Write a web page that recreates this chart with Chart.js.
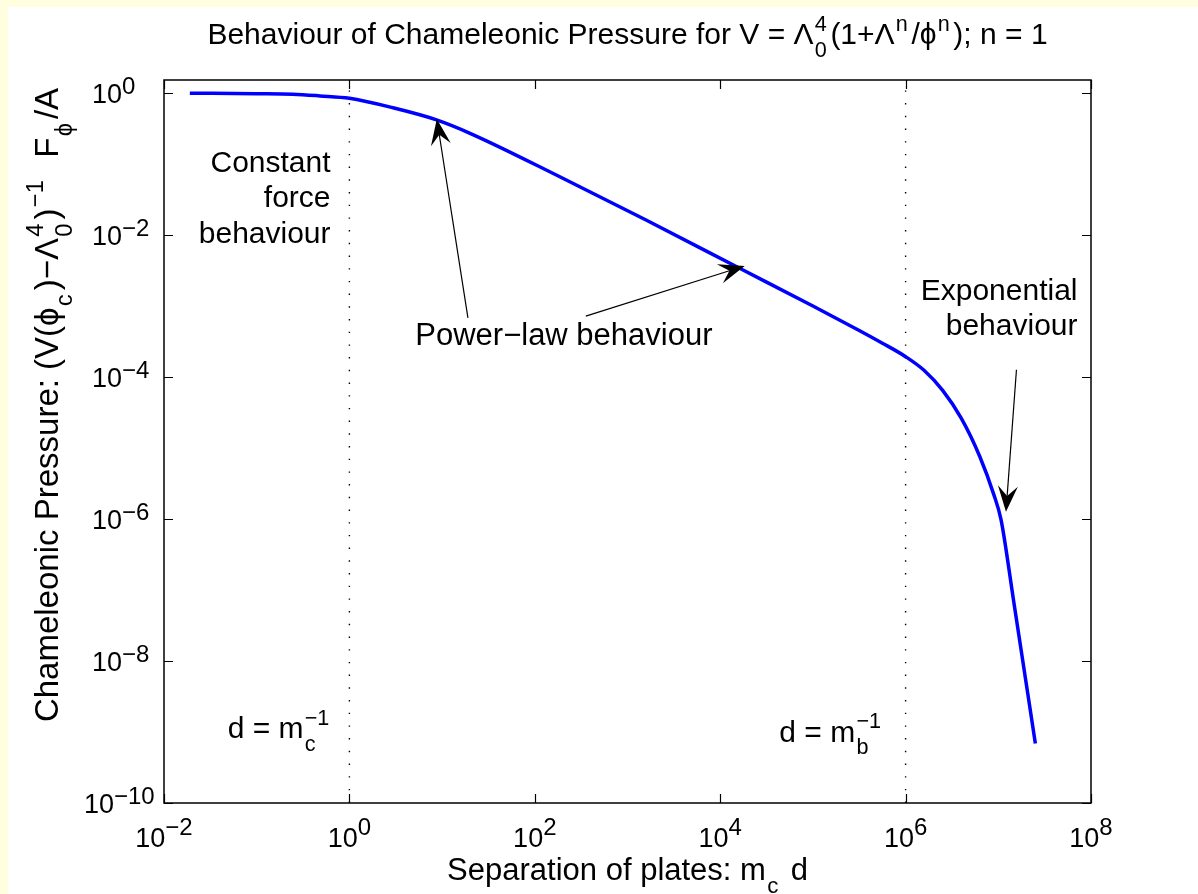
<!DOCTYPE html>
<html>
<head>
<meta charset="utf-8">
<title>Chameleonic pressure</title>
<script src="https://cdn.jsdelivr.net/npm/chart.js@4.4.0/dist/chart.umd.min.js"></script>
<style>
  html, body { margin: 0; padding: 0; background: #ffffe0; overflow: hidden; }
  #wrap { position: absolute; left: 8px; top: 7px; width: 1190px; height: 887px; background: #fff; }
</style>
</head>
<body>
<div id="wrap"><canvas id="pressureChart" width="1190" height="887"></canvas></div>
<script>
/* values (x = m_c d, y = scaled pressure) */
var separation = [0.019, 0.1, 0.245, 0.48, 1, 2.95, 8.7, 20, 186, 1585, 16200, 1.0e5, 3.16e5, 5.62e5,
                  1.0e6, 1.58e6, 2.51e6, 3.98e6, 6.31e6, 8.91e6, 1.07e7, 1.45e7, 2.51e7];
var pressure = [0.99, 0.977, 0.96, 0.908, 0.84, 0.617, 0.417, 0.27, 0.066, 0.0162, 0.00339, 1.0e-3, 4.52e-4, 2.99e-4,
                1.93e-4, 1.24e-4, 6.46e-5, 2.63e-5, 7.59e-6, 2.24e-6, 9.8e-7, 7.6e-8, 6.9e-10];

var xTickValues = [1e-2, 1e0, 1e2, 1e4, 1e6, 1e8];
var yTickValues = [1e-10, 1e-8, 1e-6, 1e-4, 1e-2, 1e0];
var xRange = [1e-2, 1e8];
var yRange = [1e-10, 1.52];
var markerLines = [1, 1e6];   // d = 1/m_c and d = 1/m_b

/* annotations, anchored in data coordinates */
var arrows = [
    { from: [19.0, 6.78e-4], to: [8.77, 0.43] },
    { from: [355, 7.2e-4], to: [18370, 3.66e-3] },
    { from: [1.57e7, 1.26e-4], to: [1.21e7, 1.26e-6] }
];
var notes = [
    { lines: ['Constant', 'force', 'behaviour'], at: [0.626, 0.0771], align: 'right' },
    { lines: ['Power\u2212law behaviour'], at: [206, 2.82e-4], align: 'center' },
    { lines: ['Exponential', 'behaviour'], at: [7.15e7, 1.22e-3], align: 'right' }
];
var markerNotes = [
    { sub: 'c', at: [0.664, 8.2e-10] },
    { sub: 'b', at: [5.94e5, 7.3e-10] }
];

var FAMILY = "'Liberation Sans', Arial, Helvetica, sans-serif";
function font(px) { return px + 'px ' + FAMILY; }

/* rich text: {t: text} or {sup: .., sub: ..} */
function partWidth(ctx, p, size) {
    if (p.t !== undefined) { ctx.font = font(size); return ctx.measureText(p.t).width; }
    ctx.font = font(size * 0.72);
    var a = p.sup ? ctx.measureText(p.sup).width : 0;
    var b = p.sub ? ctx.measureText(p.sub).width : 0;
    return Math.max(a, b) + size * 0.16;
}
function richWidth(ctx, parts, size) {
    var w = 0;
    parts.forEach(function (p) { w += partWidth(ctx, p, size); });
    return w;
}
function drawRich(ctx, parts, x, y, size, align) {
    var w = richWidth(ctx, parts, size);
    var cx = align === 'center' ? x - w / 2 : (align === 'right' ? x - w : x);
    ctx.textAlign = 'left';
    ctx.textBaseline = 'alphabetic';
    parts.forEach(function (p) {
        if (p.t !== undefined) {
            ctx.font = font(size);
            ctx.fillText(p.t, cx, y);
        } else {
            ctx.font = font(size * 0.72);
            if (p.sup) ctx.fillText(p.sup, cx + size * 0.04, y - size * 0.45);
            if (p.sub) ctx.fillText(p.sub, cx + size * 0.04, y + size * 0.42);
        }
        cx += partWidth(ctx, p, size);
    });
}

function expText(v) {
    return String(Math.round(Math.log10(v))).replace('-', '\u2212');
}

function drawArrow(ctx, x0, y0, x1, y1) {
    var ang = Math.atan2(y1 - y0, x1 - x0);
    var L = 26, H = 10, N = 16;
    var c = Math.cos(ang), s = Math.sin(ang);
    ctx.beginPath();
    ctx.moveTo(x0, y0);
    ctx.lineTo(x1 - c * N, y1 - s * N);
    ctx.lineWidth = 1.2;
    ctx.stroke();
    ctx.beginPath();
    ctx.moveTo(x1, y1);
    ctx.lineTo(x1 - c * L - s * H, y1 - s * L + c * H);
    ctx.lineTo(x1 - c * N, y1 - s * N);
    ctx.lineTo(x1 - c * L + s * H, y1 - s * L - c * H);
    ctx.closePath();
    ctx.fill();
}

var matlabAxes = {
    id: 'matlabAxes',
    afterDatasetsDraw: function (chart) {
        var ctx = chart.ctx, a = chart.chartArea;
        var xs = chart.scales.x, ys = chart.scales.y;
        ctx.save();
        ctx.fillStyle = '#000';
        ctx.strokeStyle = '#000';

        // box and inward ticks
        ctx.lineWidth = 1.5;
        ctx.strokeRect(a.left, a.top, a.right - a.left, a.bottom - a.top);
        ctx.lineWidth = 1.2;
        ctx.beginPath();
        xTickValues.forEach(function (v) {
            var px = Math.round(xs.getPixelForValue(v)) + 0.5;
            ctx.moveTo(px, a.bottom); ctx.lineTo(px, a.bottom - 9);
            ctx.moveTo(px, a.top); ctx.lineTo(px, a.top + 9);
        });
        yTickValues.forEach(function (v) {
            var py = Math.round(ys.getPixelForValue(v)) + 0.5;
            ctx.moveTo(a.left, py); ctx.lineTo(a.left + 9, py);
            ctx.moveTo(a.right, py); ctx.lineTo(a.right - 9, py);
        });
        ctx.stroke();

        // tick labels 10^n
        var base = 27, small = 24;
        ctx.textBaseline = 'alphabetic';
        ctx.textAlign = 'left';
        xTickValues.forEach(function (v) {
            var px = xs.getPixelForValue(v), e = expText(v);
            ctx.font = font(base); var w1 = ctx.measureText('10').width;
            ctx.font = font(small); var w2 = ctx.measureText(e).width;
            var x0 = px - (w1 + w2) / 2, yb = a.bottom + 44;
            ctx.font = font(base); ctx.fillText('10', x0, yb);
            ctx.font = font(small); ctx.fillText(e, x0 + w1, yb - 12);
        });
        ctx.font = font(small);
        var refW = ctx.measureText('\u22122').width;
        yTickValues.forEach(function (v) {
            var py = ys.getPixelForValue(v), e = expText(v);
            ctx.font = font(small); var w2 = ctx.measureText(e).width;
            ctx.font = font(base); var w1 = ctx.measureText('10').width;
            var right = a.left - 42 - Math.max(0, w2 - refW) * 0.6;
            ctx.fillText('10', right - w1, py + 10);
            ctx.font = font(small); ctx.fillText(e, right, py + 1);
        });

        // annotation text
        var fs = 30;
        notes.forEach(function (n) {
            var px = xs.getPixelForValue(n.at[0]), py = ys.getPixelForValue(n.at[1]);
            ctx.font = font(n.align === 'center' ? 31 : fs);
            ctx.textAlign = n.align;
            n.lines.forEach(function (line, i) { ctx.fillText(line, px, py + i * 35.5); });
        });
        markerNotes.forEach(function (m) {
            var px = xs.getPixelForValue(m.at[0]), py = ys.getPixelForValue(m.at[1]);
            drawRich(ctx, [{ t: 'd = m' }, { sup: '\u22121', sub: m.sub }], px, py, fs, 'right');
        });
        arrows.forEach(function (ar) {
            drawArrow(ctx, xs.getPixelForValue(ar.from[0]), ys.getPixelForValue(ar.from[1]),
                xs.getPixelForValue(ar.to[0]), ys.getPixelForValue(ar.to[1]));
        });

        // title and axis labels
        var cx = (a.left + a.right) / 2;
        drawRich(ctx, [{ t: 'Behaviour of Chameleonic Pressure for V = \u039b' }, { sup: '4', sub: '0' },
            { t: '(1+\u039b' }, { sup: 'n' }, { t: '/\u03d5' }, { sup: 'n' }, { t: '); n = 1' }],
            cx, 37, 30, 'center');
        drawRich(ctx, [{ t: 'Separation of plates: m' }, { sub: 'c' }, { t: ' d' }], cx, 873, 31, 'center');

        ctx.translate(50, 398);
        ctx.rotate(-Math.PI / 2);
        drawRich(ctx, [{ t: 'Chameleonic Pressure: (V(\u03d5' }, { sub: 'c' }, { t: ')\u2212\u039b' },
            { sup: '4', sub: '0' }, { t: ')' }, { sup: '\u22121' }, { t: '  F' }, { sub: '\u03d5' }, { t: '/A' }],
            0, 0, 33, 'center');
        ctx.restore();
    }
};

var curve = separation.map(function (x, i) { return { x: x, y: pressure[i] }; });
var dotted = markerLines.map(function (x) {
    return {
        data: [{ x: x, y: yRange[0] }, { x: x, y: yRange[1] }],
        borderColor: '#000',
        borderWidth: 1.4,
        borderDash: [1.4, 11.3],
        pointRadius: 0,
        order: 2
    };
});

new Chart(document.getElementById('pressureChart'), {
    type: 'line',
    data: {
        datasets: [{
            data: curve,
            borderColor: '#0000ff',
            borderWidth: 3.5,
            pointRadius: 0,
            fill: false,
            cubicInterpolationMode: 'monotone',
            order: 1
        }].concat(dotted)
    },
    options: {
        responsive: false,
        animation: false,
        events: [],
        layout: { padding: { left: 156, right: 107, top: 73, bottom: 91 } },
        plugins: { legend: { display: false }, tooltip: { enabled: false } },
        scales: {
            x: { type: 'logarithmic', min: xRange[0], max: xRange[1], display: false },
            y: { type: 'logarithmic', min: yRange[0], max: yRange[1], display: false }
        }
    },
    plugins: [matlabAxes]
});
</script>
</body>
</html>
